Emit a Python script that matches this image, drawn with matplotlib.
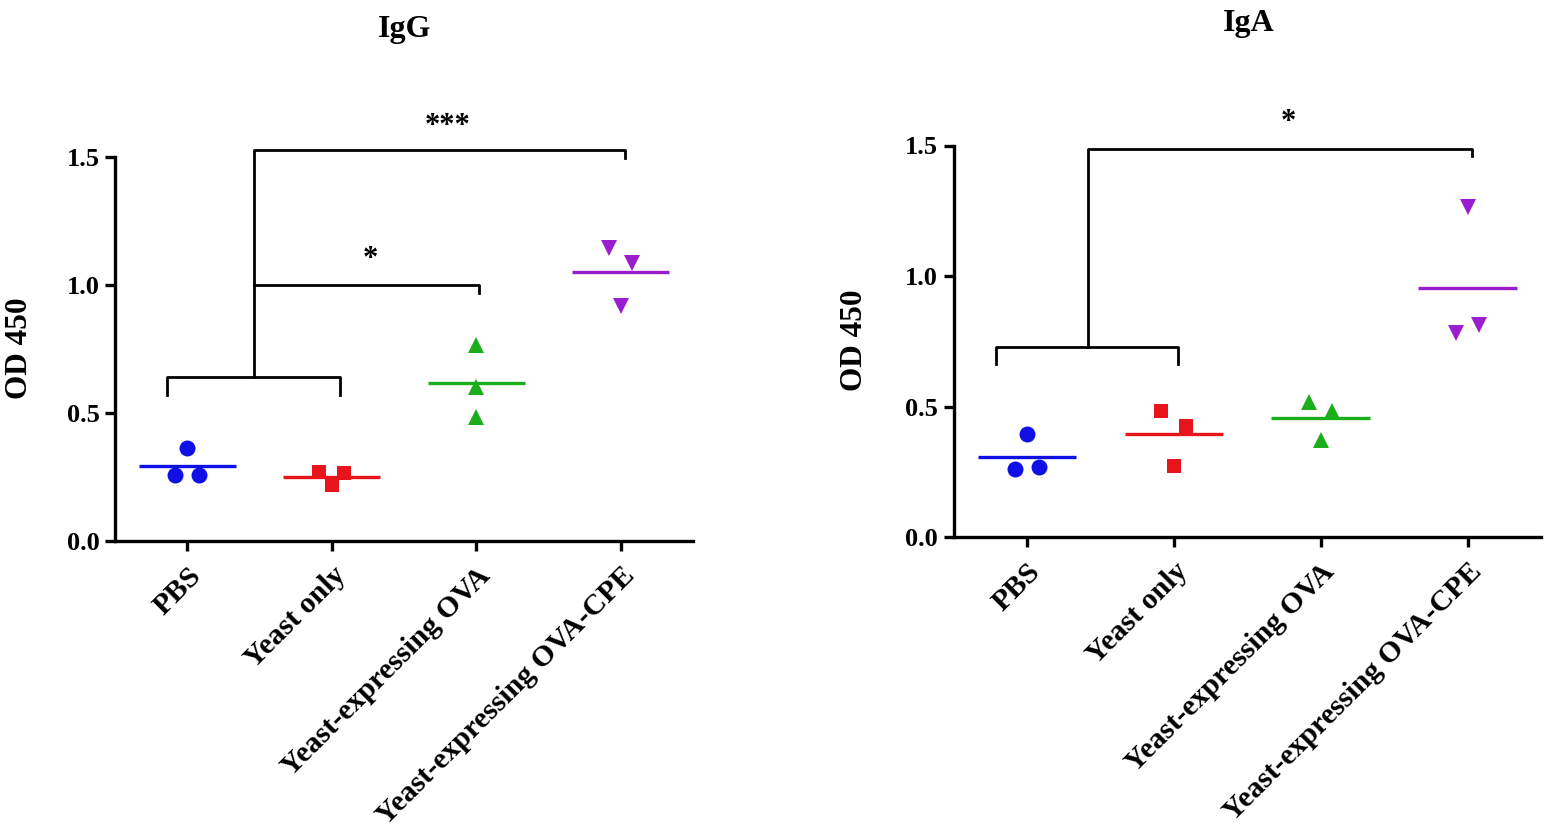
import matplotlib
matplotlib.use("Agg")
import matplotlib.pyplot as plt
import numpy as np

# ---------------- data ----------------
categories = ["PBS", "Yeast only", "Yeast-expressing OVA", "Yeast-expressing OVA-CPE"]
colors = ["#1010E6", "#E8141B", "#1AAE1A", "#9A1ED0"]
markers = ["o", "s", "^", "v"]

igg_pbs = [0.364, 0.258, 0.258]
igg_yeast = [0.271, 0.219, 0.264]
igg_ova = [0.766, 0.600, 0.486]
igg_cpe = [1.143, 1.087, 0.918]

iga_pbs = [0.393, 0.259, 0.269]
iga_yeast = [0.483, 0.425, 0.273]
iga_ova = [0.518, 0.483, 0.372]
iga_cpe = [1.266, 0.812, 0.780]

# horizontal scatter offsets (category units) of the three replicates
igg_offsets = [[0.0, -0.085, 0.08], [-0.085, 0.0, 0.085], [0.0, 0.0, 0.0], [-0.08, 0.08, 0.0]]
iga_offsets = [[0.0, -0.08, 0.085], [-0.085, 0.085, 0.0], [-0.08, 0.08, 0.0], [0.0, 0.08, -0.08]]

yticks = [0.0, 0.5, 1.0, 1.5]

FONT = "Liberation Serif"
plt.rcParams["font.family"] = [FONT, "DejaVu Serif"]
plt.rcParams["font.weight"] = "bold"

fig = plt.figure(figsize=(15.55, 8.33), dpi=100)
W, H = 1555.0, 833.0


def make_axes(left_px, right_px, y0_px, y15_px):
    return fig.add_axes([left_px / W, (H - y0_px) / H, (right_px - left_px) / W, (y0_px - y15_px) / H])


def draw_panel(ax, groups, offsets):
    for i, (vals, off) in enumerate(zip(groups, offsets)):
        xs = [i + o for o in off]
        ms = 11.5 if markers[i] == "o" else (10.5 if markers[i] == "s" else 12)
        ax.plot(xs, vals, linestyle="none", marker=markers[i], color=colors[i],
                markersize=ms, markeredgewidth=0, clip_on=False, zorder=3)
        m = np.mean(vals)
        ax.plot([i - 0.335, i + 0.335], [m, m], color=colors[i], lw=2.4,
                solid_capstyle="butt", zorder=2)
    ax.set_xlim(-0.5, 3.5)
    ax.set_ylim(0, 1.5)
    ax.set_yticks(yticks)
    ax.set_yticklabels([f"{t:.1f}" for t in yticks], fontsize=19, fontweight="bold")
    ax.set_xticks(range(len(categories)))
    ax.set_xticklabels(categories, rotation=45, ha="right", rotation_mode="anchor",
                       fontsize=21.5, fontweight="bold")
    for s in ("top", "right"):
        ax.spines[s].set_visible(False)
    for s in ("left", "bottom"):
        ax.spines[s].set_linewidth(2.4)
    ax.spines["left"].set_bounds(0, 1.5)
    ax.tick_params(axis="both", direction="out", length=7, width=2.4, pad=4)
    ax.tick_params(axis="x", pad=8)


def bracket(ax, pts):
    xs, ys = zip(*pts)
    ax.plot(xs, ys, color="black", lw=2.0, clip_on=False, solid_joinstyle="round", zorder=1)


# ---------------- IgG ----------------
ax1 = make_axes(115, 693, 541, 157)
draw_panel(ax1, [igg_pbs, igg_yeast, igg_ova, igg_cpe], igg_offsets)
bracket(ax1, [(-0.14, 0.57), (-0.14, 0.642), (1.06, 0.642), (1.06, 0.57)])
bracket(ax1, [(0.46, 0.642), (0.46, 1.527), (3.03, 1.527), (3.03, 1.496)])
bracket(ax1, [(0.46, 1.0), (2.02, 1.0), (2.02, 0.97)])
ax1.text(1.27, 1.10, "*", ha="center", va="center", fontsize=22, fontweight="bold")
ax1.text(1.8, 1.62, "***", ha="center", va="center", fontsize=22, fontweight="bold", clip_on=False)

# ---------------- IgA ----------------
ax2 = make_axes(953.5, 1541, 537, 145.5)
draw_panel(ax2, [iga_pbs, iga_yeast, iga_ova, iga_cpe], iga_offsets)
bracket(ax2, [(-0.21, 0.663), (-0.21, 0.729), (1.03, 0.729), (1.03, 0.663)])
bracket(ax2, [(0.415, 0.729), (0.415, 1.487), (3.03, 1.487), (3.03, 1.46)])
ax2.text(1.78, 1.59, "*", ha="center", va="center", fontsize=22, fontweight="bold", clip_on=False)

# titles and y labels
fig.text(405 / W, 1 - 30 / H, "IgG", ha="center", va="center", fontsize=23, fontweight="bold")
fig.text(1249 / W, 1 - 23 / H, "IgA", ha="center", va="center", fontsize=23, fontweight="bold")
fig.text(20 / W, 1 - 348 / H, "OD 450", ha="center", va="center", rotation=90, fontsize=22.5, fontweight="bold")
fig.text(855 / W, 1 - 340 / H, "OD 450", ha="center", va="center", rotation=90, fontsize=22.5, fontweight="bold")

fig.savefig("out.png", dpi=100, facecolor="white")
